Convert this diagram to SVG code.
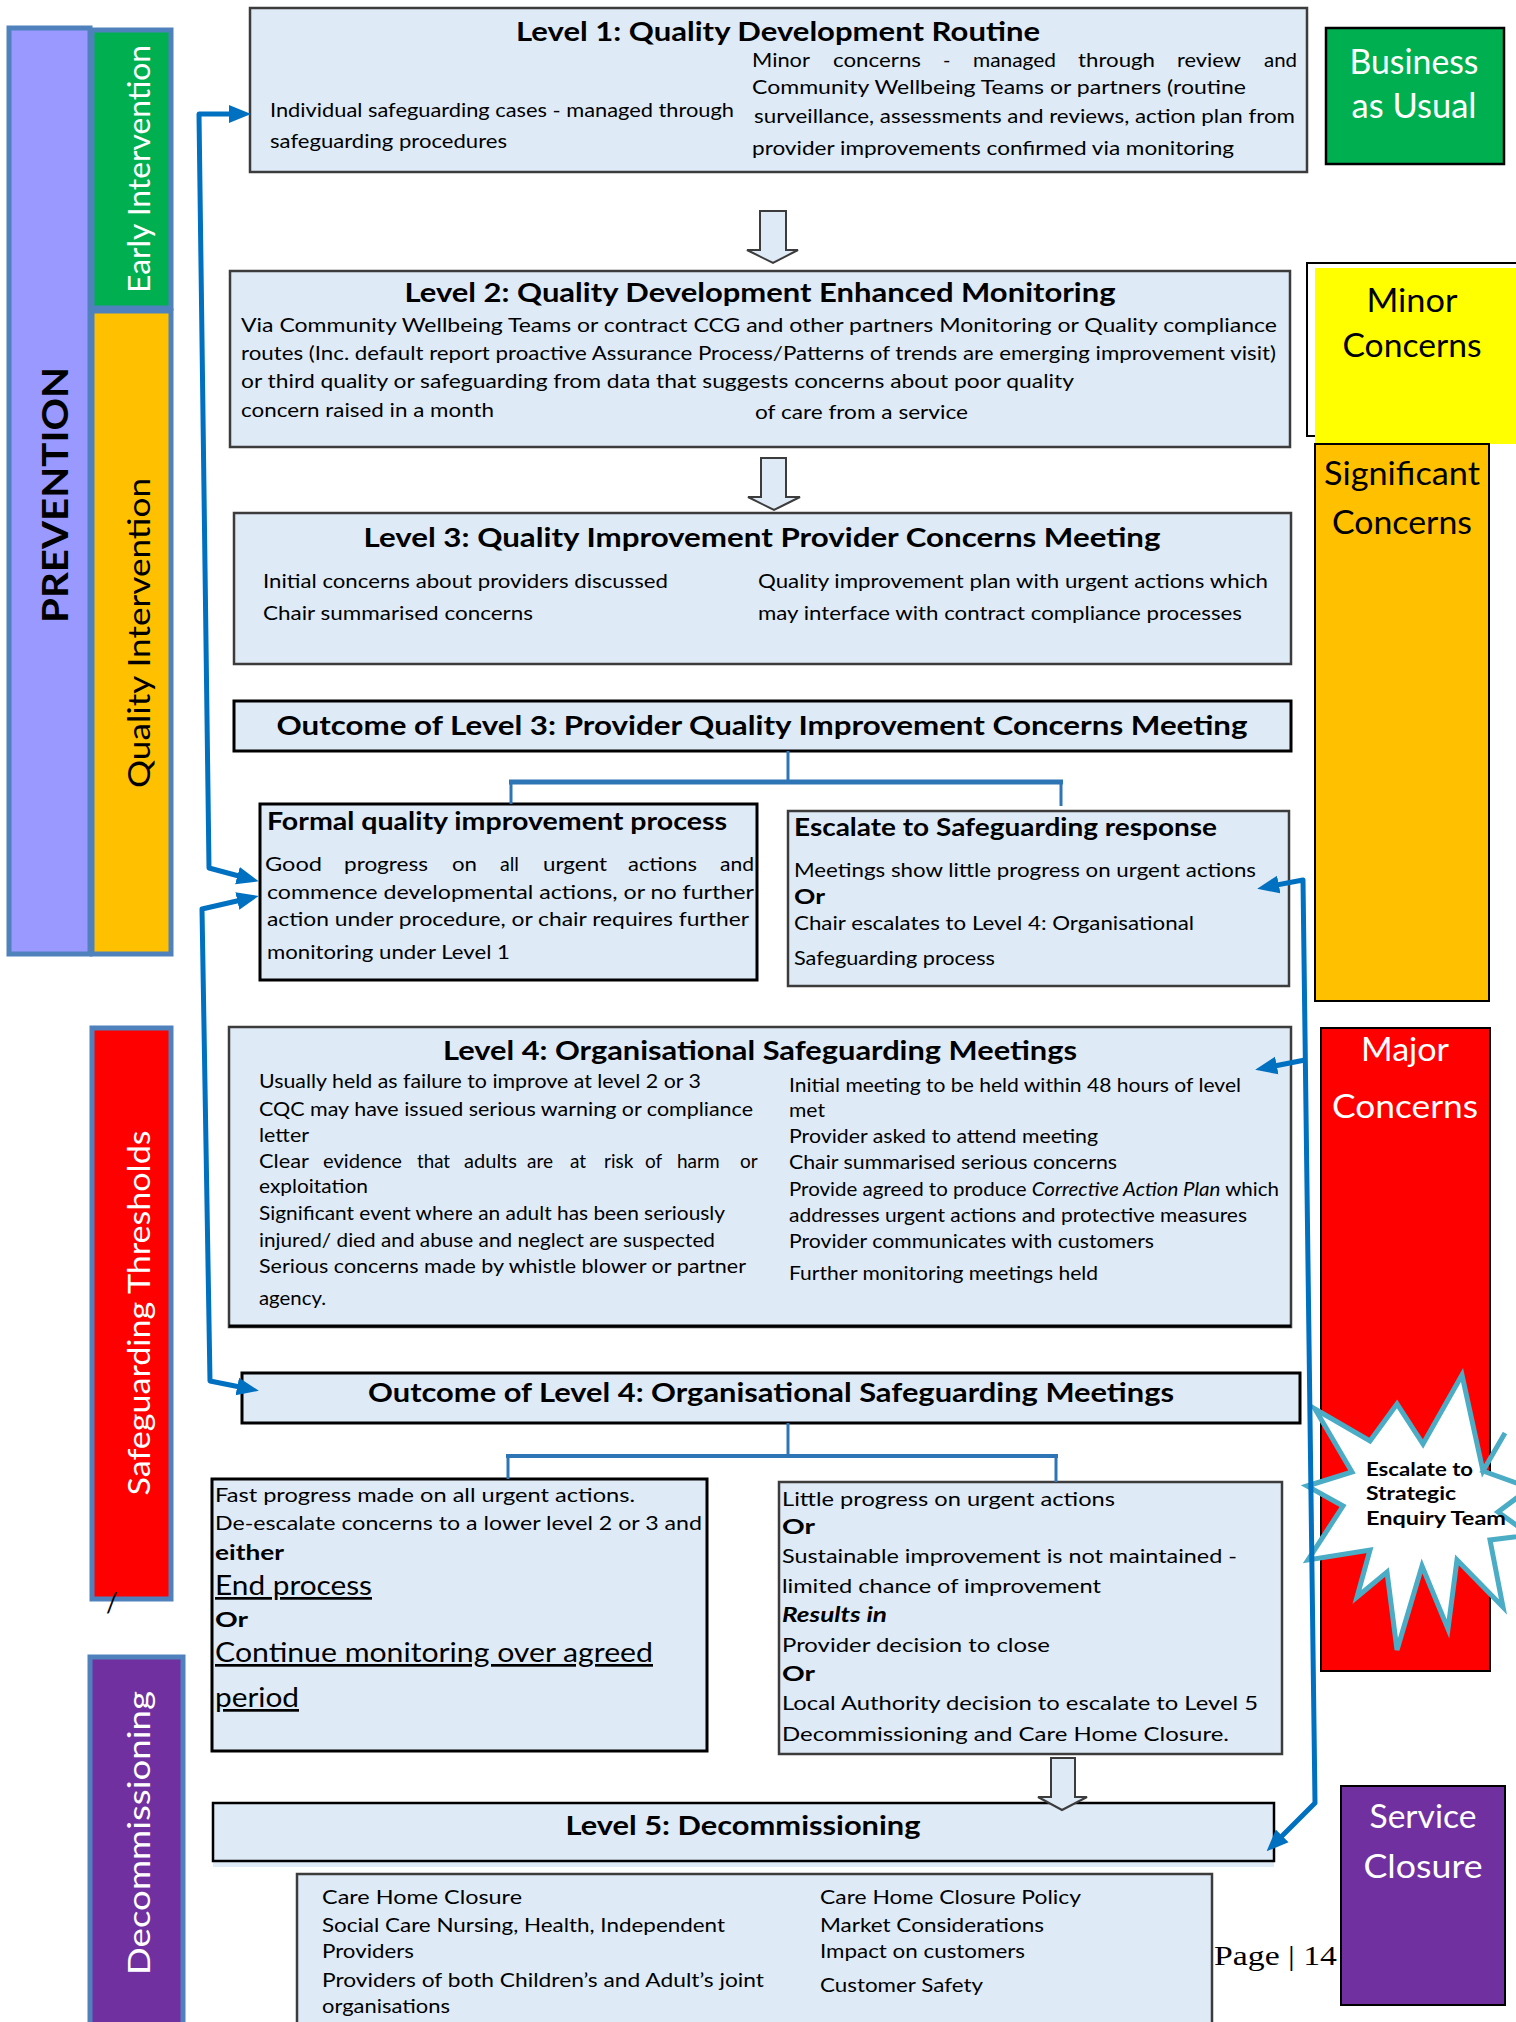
<svg xmlns="http://www.w3.org/2000/svg" width="1516" height="2022" viewBox="0 0 1516 2022">
  <style>
    text { font-family: Lato, "Liberation Sans", "DejaVu Sans", sans-serif; fill: #000; }
    .t { font-size: 20px; }
    .s { font-size: 19px; }
    .b { font-weight: bold; }
    .h { font-weight: bold; font-size: 26px; text-anchor: middle; }
    .c { text-anchor: middle; }
    .w { fill: #fff; }
    .u { text-decoration: underline; font-size: 27px; }
    .box { fill: #DEEAF6; stroke: #3c3c3c; stroke-width: 2.5; }
    .boxk { fill: #DEEAF6; stroke: #000; stroke-width: 3; }
    .strip { stroke: #4F81BD; stroke-width: 5; }
    .blk { fill: #DEEAF6; stroke: #3c3c3c; stroke-width: 2; }
    .flow { fill: none; stroke: #0070C0; stroke-width: 5; stroke-linejoin: round; }
    .tree { fill: none; stroke: #2E75B6; }
    .side { stroke: #000; stroke-width: 2.5; }
  </style>
  <defs>
    <marker id="arrow" markerUnits="userSpaceOnUse" markerWidth="22" markerHeight="20" viewBox="0 0 22 20" refX="13" refY="10" orient="auto-start-reverse">
      <path d="M0,1 L22,10 L0,19 Z" fill="#0070C0"/>
    </marker>
  </defs>

  <rect width="1516" height="2022" fill="#fff"/>

  <!-- left-hand category strips -->
  <g id="prevention">
    <rect class="strip" x="9" y="28" width="81" height="926" fill="#9999FF"/>
    <text class="b c" font-size="36" textLength="256" lengthAdjust="spacingAndGlyphs" transform="translate(68,495) rotate(-90)">PREVENTION</text>
  </g>
  <g id="early-intervention">
    <rect class="strip" x="92" y="30" width="79" height="278" fill="#00B050"/>
    <text class="c w" font-size="31" textLength="248" lengthAdjust="spacingAndGlyphs" transform="translate(150,169) rotate(-90)">Early Intervention</text>
  </g>
  <g id="quality-intervention">
    <rect class="strip" x="92" y="311" width="79" height="643" fill="#FFC000"/>
    <text class="c" font-size="31" textLength="310" lengthAdjust="spacingAndGlyphs" transform="translate(150,633) rotate(-90)">Quality Intervention</text>
  </g>
  <g id="safeguarding-thresholds">
    <rect class="strip" x="92" y="1028" width="79" height="571" fill="#FF0000"/>
    <text class="c w" font-size="31" textLength="365" lengthAdjust="spacingAndGlyphs" transform="translate(150,1313) rotate(-90)">Safeguarding Thresholds</text>
    <text x="106" y="1612" font-size="26">/</text>
  </g>
  <g id="decommissioning">
    <rect class="strip" x="90" y="1657" width="93" height="380" fill="#7030A0"/>
    <text class="c w" font-size="31" textLength="284" lengthAdjust="spacingAndGlyphs" transform="translate(150,1833) rotate(-90)">Decommissioning</text>
  </g>

  <!-- right-hand concern bands -->
  <g id="business-as-usual">
    <rect class="side" x="1326" y="28" width="178" height="136" fill="#00B050"/>
    <text class="c w" x="1414" y="74" font-size="34" textLength="129" lengthAdjust="spacingAndGlyphs">Business</text>
    <text class="c w" x="1414" y="118" font-size="34" textLength="125" lengthAdjust="spacingAndGlyphs">as Usual</text>
  </g>
  <g id="minor-concerns">
    <rect x="1307" y="263" width="210" height="173" fill="#fff" stroke="#000" stroke-width="2"/>
    <rect x="1315" y="268" width="201" height="176" fill="#FFFF00"/>
    <text class="c" x="1412" y="312" font-size="32" textLength="91" lengthAdjust="spacingAndGlyphs">Minor</text>
    <text class="c" x="1412" y="357" font-size="32" textLength="139" lengthAdjust="spacingAndGlyphs">Concerns</text>
  </g>
  <g id="significant-concerns">
    <rect x="1315" y="444" width="174" height="557" fill="#FFC000" stroke="#000" stroke-width="2"/>
    <text class="c" x="1402" y="485" font-size="32" textLength="156" lengthAdjust="spacingAndGlyphs">Significant</text>
    <text class="c" x="1402" y="534" font-size="32" textLength="140" lengthAdjust="spacingAndGlyphs">Concerns</text>
  </g>
  <g id="major-concerns">
    <rect x="1321" y="1028" width="169" height="643" fill="#FF0000" stroke="#000" stroke-width="2"/>
    <text class="c w" x="1405" y="1061" font-size="32" textLength="88" lengthAdjust="spacingAndGlyphs">Major</text>
    <text class="c w" x="1405" y="1118" font-size="32" textLength="146" lengthAdjust="spacingAndGlyphs">Concerns</text>
  </g>
  <g id="strategic-enquiry">
    <polygon points="1462,1375 1483,1471 1505,1433 1483,1471 1530,1488 1498,1512 1530,1535 1490,1540 1503,1607 1457,1560 1448,1629 1422,1566 1397,1650 1387,1572 1357,1597 1370,1550 1308,1560 1343,1506 1307,1486 1352,1472 1315,1409 1370,1441 1397,1404 1423,1444" fill="#fff" stroke="#4BACC6" stroke-width="5" stroke-linejoin="miter"/>
    <text class="b" x="1366" y="1476" font-size="19" textLength="107" lengthAdjust="spacingAndGlyphs">Escalate to</text>
    <text class="b" x="1366" y="1500" font-size="19" textLength="90" lengthAdjust="spacingAndGlyphs">Strategic</text>
    <text class="b" x="1366" y="1525" font-size="19" textLength="140" lengthAdjust="spacingAndGlyphs">Enquiry Team</text>
  </g>
  <g id="service-closure">
    <rect x="1341" y="1786" width="164" height="219" fill="#7030A0" stroke="#000" stroke-width="2"/>
    <text class="c w" x="1423" y="1828" font-size="32" textLength="107" lengthAdjust="spacingAndGlyphs">Service</text>
    <text class="c w" x="1423" y="1878" font-size="32" textLength="119" lengthAdjust="spacingAndGlyphs">Closure</text>
  </g>

  <!-- Level 1 -->
  <g id="level-1">
    <rect class="box" x="250" y="8" width="1057" height="164"/>
    <text class="h" x="778" y="41" textLength="524" lengthAdjust="spacingAndGlyphs">Level 1: Quality Development Routine</text>
    <text class="t" x="270" y="117" textLength="464" lengthAdjust="spacingAndGlyphs">Individual safeguarding cases - managed through</text>
    <text class="t" x="270" y="148" textLength="237" lengthAdjust="spacingAndGlyphs">safeguarding procedures</text>
    <!-- justified line: words placed individually -->
    <text class="t" y="67"><tspan x="752" textLength="58" lengthAdjust="spacingAndGlyphs">Minor</tspan><tspan x="833" textLength="88" lengthAdjust="spacingAndGlyphs">concerns</tspan><tspan x="943">-</tspan><tspan x="973" textLength="83" lengthAdjust="spacingAndGlyphs">managed</tspan><tspan x="1078" textLength="77" lengthAdjust="spacingAndGlyphs">through</tspan><tspan x="1177" textLength="64" lengthAdjust="spacingAndGlyphs">review</tspan><tspan x="1264" textLength="33" lengthAdjust="spacingAndGlyphs">and</tspan></text>
    <text class="t" x="752" y="94" textLength="494" lengthAdjust="spacingAndGlyphs">Community Wellbeing Teams or partners (routine</text>
    <text class="t" x="754" y="123" textLength="541" lengthAdjust="spacingAndGlyphs">surveillance, assessments and reviews, action plan  from</text>
    <text class="t" x="752" y="155" textLength="482" lengthAdjust="spacingAndGlyphs">provider improvements confirmed via monitoring</text>
  </g>

  <!-- Level 2 -->
  <g id="level-2">
    <rect class="box" x="230" y="271" width="1060" height="176"/>
    <text class="h" x="760" y="302" textLength="711" lengthAdjust="spacingAndGlyphs">Level 2: Quality Development Enhanced Monitoring</text>
    <text class="t" x="241" y="332" textLength="1036" lengthAdjust="spacingAndGlyphs">Via Community Wellbeing Teams or contract CCG and other partners Monitoring or  Quality compliance</text>
    <text class="t" x="241" y="360" textLength="1035" lengthAdjust="spacingAndGlyphs">routes (Inc. default report proactive Assurance Process/Patterns of trends are emerging improvement visit)</text>
    <text class="t" x="241" y="388" textLength="833" lengthAdjust="spacingAndGlyphs">or third quality or safeguarding from data that suggests concerns about poor quality</text>
    <text class="t" x="241" y="417" textLength="253" lengthAdjust="spacingAndGlyphs">concern raised in a month</text>
    <text class="t" x="755" y="419" textLength="213" lengthAdjust="spacingAndGlyphs">of care from a service</text>
  </g>

  <!-- Level 3 -->
  <g id="level-3">
    <rect class="box" x="234" y="513" width="1057" height="151"/>
    <text class="h" x="762" y="547" textLength="797" lengthAdjust="spacingAndGlyphs">Level 3: Quality Improvement Provider Concerns Meeting</text>
    <text class="t" x="263" y="588" textLength="405" lengthAdjust="spacingAndGlyphs">Initial concerns about providers discussed</text>
    <text class="t" x="263" y="620" textLength="270" lengthAdjust="spacingAndGlyphs">Chair summarised concerns</text>
    <text class="t" x="758" y="588" textLength="510" lengthAdjust="spacingAndGlyphs">Quality improvement plan with urgent actions which</text>
    <text class="t" x="758" y="620" textLength="484" lengthAdjust="spacingAndGlyphs">may interface with contract compliance processes</text>
  </g>

  <g id="outcome-level-3">
    <rect class="boxk" x="234" y="701" width="1057" height="50"/>
    <text class="h" x="762" y="735" font-size="28" textLength="971" lengthAdjust="spacingAndGlyphs">Outcome of Level 3: Provider Quality Improvement Concerns Meeting</text>
  </g>

  <g id="formal-quality">
    <rect class="boxk" x="260" y="804" width="497" height="176"/>
    <text class="b" x="267" y="830" font-size="24" textLength="460" lengthAdjust="spacingAndGlyphs">Formal quality improvement process</text>
    <text class="t" y="871"><tspan x="265" textLength="57" lengthAdjust="spacingAndGlyphs">Good</tspan><tspan x="344" textLength="84" lengthAdjust="spacingAndGlyphs">progress</tspan><tspan x="452" textLength="25" lengthAdjust="spacingAndGlyphs">on</tspan><tspan x="500" textLength="19" lengthAdjust="spacingAndGlyphs">all</tspan><tspan x="543" textLength="64" lengthAdjust="spacingAndGlyphs">urgent</tspan><tspan x="628" textLength="69" lengthAdjust="spacingAndGlyphs">actions</tspan><tspan x="720" textLength="34" lengthAdjust="spacingAndGlyphs">and</tspan></text>
    <text class="t" x="267" y="899" textLength="487" lengthAdjust="spacingAndGlyphs">commence developmental actions, or no further</text>
    <text class="t" x="267" y="926" textLength="482" lengthAdjust="spacingAndGlyphs">action under procedure, or chair requires further</text>
    <text class="t" x="267" y="959" textLength="243" lengthAdjust="spacingAndGlyphs">monitoring under Level 1</text>
  </g>

  <g id="escalate-safeguarding">
    <rect class="box" x="788" y="811" width="501" height="175"/>
    <text class="b" x="794" y="836" font-size="24" textLength="423" lengthAdjust="spacingAndGlyphs">Escalate to Safeguarding response</text>
    <text class="t" x="794" y="877" textLength="462" lengthAdjust="spacingAndGlyphs">Meetings show little progress on urgent actions</text>
    <text class="t b" x="794" y="904" textLength="31" lengthAdjust="spacingAndGlyphs">Or</text>
    <text class="t" x="794" y="930" textLength="400" lengthAdjust="spacingAndGlyphs">Chair escalates to Level 4: Organisational</text>
    <text class="t" x="794" y="965" textLength="201" lengthAdjust="spacingAndGlyphs">Safeguarding process</text>
  </g>

  <!-- Level 4 -->
  <g id="level-4">
    <rect class="box" x="229" y="1027" width="1062" height="300"/>
    <line x1="229" y1="1326" x2="1291" y2="1326" stroke="#000" stroke-width="3"/>
    <text class="h" x="760" y="1060" textLength="634" lengthAdjust="spacingAndGlyphs">Level 4: Organisational Safeguarding Meetings</text>
    <text class="s" x="259" y="1088" textLength="442" lengthAdjust="spacingAndGlyphs">Usually held as failure to improve at level 2 or 3</text>
    <text class="s" x="259" y="1116" textLength="494" lengthAdjust="spacingAndGlyphs">CQC may have issued serious warning or compliance</text>
    <text class="s" x="259" y="1142" textLength="50" lengthAdjust="spacingAndGlyphs">letter</text>
    <text class="s" y="1168"><tspan x="259" textLength="50" lengthAdjust="spacingAndGlyphs">Clear</tspan><tspan x="323" textLength="79" lengthAdjust="spacingAndGlyphs">evidence</tspan><tspan x="417" textLength="33" lengthAdjust="spacingAndGlyphs">that</tspan><tspan x="464" textLength="53" lengthAdjust="spacingAndGlyphs">adults</tspan><tspan x="527">are</tspan><tspan x="570">at</tspan><tspan x="604">risk</tspan><tspan x="645">of</tspan><tspan x="677">harm</tspan><tspan x="740">or</tspan></text>
    <text class="s" x="259" y="1193" textLength="109" lengthAdjust="spacingAndGlyphs">exploitation</text>
    <text class="s" x="259" y="1220" textLength="466" lengthAdjust="spacingAndGlyphs">Significant event where an adult has been seriously</text>
    <text class="s" x="259" y="1247" textLength="456" lengthAdjust="spacingAndGlyphs">injured/ died and abuse and neglect are suspected</text>
    <text class="s" x="259" y="1273" textLength="487" lengthAdjust="spacingAndGlyphs">Serious concerns made by whistle blower or partner</text>
    <text class="s" x="259" y="1305" textLength="67" lengthAdjust="spacingAndGlyphs">agency.</text>
    <text class="s" x="789" y="1092" textLength="452" lengthAdjust="spacingAndGlyphs">Initial meeting to be held within 48 hours of level</text>
    <text class="s" x="789" y="1117" textLength="36" lengthAdjust="spacingAndGlyphs">met</text>
    <text class="s" x="789" y="1143" textLength="309" lengthAdjust="spacingAndGlyphs">Provider asked to attend meeting</text>
    <text class="s" x="789" y="1169" textLength="328" lengthAdjust="spacingAndGlyphs">Chair summarised serious concerns</text>
    <text class="s" x="789" y="1196" textLength="490" lengthAdjust="spacingAndGlyphs">Provide agreed to produce <tspan font-style="italic">Corrective Action Plan</tspan> which</text>
    <text class="s" x="789" y="1222" textLength="458" lengthAdjust="spacingAndGlyphs">addresses urgent actions and protective measures</text>
    <text class="s" x="789" y="1248" textLength="365" lengthAdjust="spacingAndGlyphs">Provider communicates with customers</text>
    <text class="s" x="789" y="1280" textLength="309" lengthAdjust="spacingAndGlyphs">Further monitoring meetings held</text>
  </g>

  <g id="outcome-level-4">
    <rect class="boxk" x="242" y="1373" width="1058" height="50"/>
    <text class="h" x="771" y="1402" textLength="806" lengthAdjust="spacingAndGlyphs">Outcome of Level 4: Organisational Safeguarding Meetings</text>
  </g>

  <g id="de-escalate">
    <rect class="boxk" x="212" y="1479" width="495" height="272"/>
    <text class="t" x="215" y="1502" textLength="420" lengthAdjust="spacingAndGlyphs">Fast progress made on all urgent actions.</text>
    <text class="t" x="215" y="1530" textLength="487" lengthAdjust="spacingAndGlyphs">De-escalate concerns to a lower level 2 or 3 and</text>
    <text class="t b" x="215" y="1560" textLength="69" lengthAdjust="spacingAndGlyphs">either</text>
    <text class="u" x="215" y="1595" textLength="157" lengthAdjust="spacingAndGlyphs">End process</text>
    <text class="t b" x="215" y="1627" textLength="33" lengthAdjust="spacingAndGlyphs">Or</text>
    <text class="u" x="215" y="1662" textLength="438" lengthAdjust="spacingAndGlyphs">Continue monitoring over agreed</text>
    <text class="u" x="215" y="1707" textLength="84" lengthAdjust="spacingAndGlyphs">period</text>
  </g>

  <g id="little-progress">
    <rect class="box" x="779" y="1482" width="503" height="272"/>
    <text class="t" x="782" y="1506" textLength="333" lengthAdjust="spacingAndGlyphs">Little progress on urgent actions</text>
    <text class="t b" x="782" y="1534" textLength="33" lengthAdjust="spacingAndGlyphs">Or</text>
    <text class="t" x="782" y="1563" textLength="455" lengthAdjust="spacingAndGlyphs">Sustainable improvement is not maintained -</text>
    <text class="t" x="782" y="1593" textLength="319" lengthAdjust="spacingAndGlyphs">limited chance of improvement</text>
    <text class="t b" x="782" y="1622" font-style="italic" textLength="105" lengthAdjust="spacingAndGlyphs">Results in</text>
    <text class="t" x="782" y="1652" textLength="268" lengthAdjust="spacingAndGlyphs">Provider decision to close</text>
    <text class="t b" x="782" y="1681" textLength="33" lengthAdjust="spacingAndGlyphs">Or</text>
    <text class="t" x="782" y="1710" textLength="476" lengthAdjust="spacingAndGlyphs">Local Authority decision to escalate to Level 5</text>
    <text class="t" x="782" y="1741" textLength="447" lengthAdjust="spacingAndGlyphs">Decommissioning and Care Home Closure.</text>
  </g>

  <!-- Level 5 -->
  <g id="level-5">
    <rect x="213" y="1803" width="1061" height="64" fill="#DEEAF6"/>
    <rect x="213" y="1803" width="1061" height="58" fill="none" stroke="#000" stroke-width="2.5"/>
    <text class="h" x="743" y="1835" textLength="355" lengthAdjust="spacingAndGlyphs">Level 5: Decommissioning</text>
  </g>

  <g id="closure-considerations">
    <rect class="box" x="297" y="1874" width="915" height="170"/>
    <text class="t" x="322" y="1904" textLength="200" lengthAdjust="spacingAndGlyphs">Care Home Closure</text>
    <text class="t" x="322" y="1932" textLength="403" lengthAdjust="spacingAndGlyphs">Social Care Nursing, Health, Independent</text>
    <text class="t" x="322" y="1958" textLength="92" lengthAdjust="spacingAndGlyphs">Providers</text>
    <text class="t" x="322" y="1987" textLength="442" lengthAdjust="spacingAndGlyphs">Providers of both Children’s and Adult’s joint</text>
    <text class="t" x="322" y="2013" textLength="128" lengthAdjust="spacingAndGlyphs">organisations</text>
    <text class="t" x="820" y="1904" textLength="261" lengthAdjust="spacingAndGlyphs">Care Home Closure Policy</text>
    <text class="t" x="820" y="1932" textLength="224" lengthAdjust="spacingAndGlyphs">Market Considerations</text>
    <text class="t" x="820" y="1958" textLength="205" lengthAdjust="spacingAndGlyphs">Impact on customers</text>
    <text class="t" x="820" y="1992" textLength="163" lengthAdjust="spacingAndGlyphs">Customer Safety</text>
  </g>

  <text x="1214" y="1965" font-size="27" textLength="123" lengthAdjust="spacingAndGlyphs" style="font-family:'Liberation Serif', serif">Page | 14</text>

  <!-- connectors -->
  <g id="connectors">
    <!-- hollow block arrows between levels -->
    <path class="blk" d="M760,211 H786 V250 H798 L773,263 L747,250 H760 Z"/>
    <path class="blk" d="M761,458 H786 V497 H800 L774,510 L748,497 H761 Z"/>
    <path class="blk" d="M1051,1758 H1075 V1797 H1087 L1062,1810 L1038,1797 H1051 Z"/>

    <!-- outcome branches -->
    <line class="tree" x1="788" y1="751" x2="788" y2="783" stroke-width="3"/>
    <line class="tree" x1="509" y1="782" x2="1063" y2="782" stroke-width="5"/>
    <line class="tree" x1="511" y1="782" x2="511" y2="804" stroke-width="3"/>
    <line class="tree" x1="1061" y1="782" x2="1061" y2="806" stroke-width="3"/>

    <line class="tree" x1="788" y1="1423" x2="788" y2="1457" stroke-width="3"/>
    <line class="tree" x1="506" y1="1456" x2="1058" y2="1456" stroke-width="4"/>
    <line class="tree" x1="508" y1="1456" x2="508" y2="1479" stroke-width="3"/>
    <line class="tree" x1="1056" y1="1456" x2="1056" y2="1482" stroke-width="3"/>

    <!-- escalation / de-escalation routes -->
    <path class="flow" d="M250,879 L209,868 L199,114 L242,114" marker-start="url(#arrow)" marker-end="url(#arrow)"/>
    <path class="flow" d="M250,898 L202,909 L210,1381 L250,1389" marker-start="url(#arrow)" marker-end="url(#arrow)"/>
    <path class="flow" d="M1266,887 L1303,880 L1315,1803 L1273,1845" marker-start="url(#arrow)" marker-end="url(#arrow)"/>
    <path class="flow" d="M1305,1060 L1264,1068" marker-end="url(#arrow)"/>
  </g>
</svg>
